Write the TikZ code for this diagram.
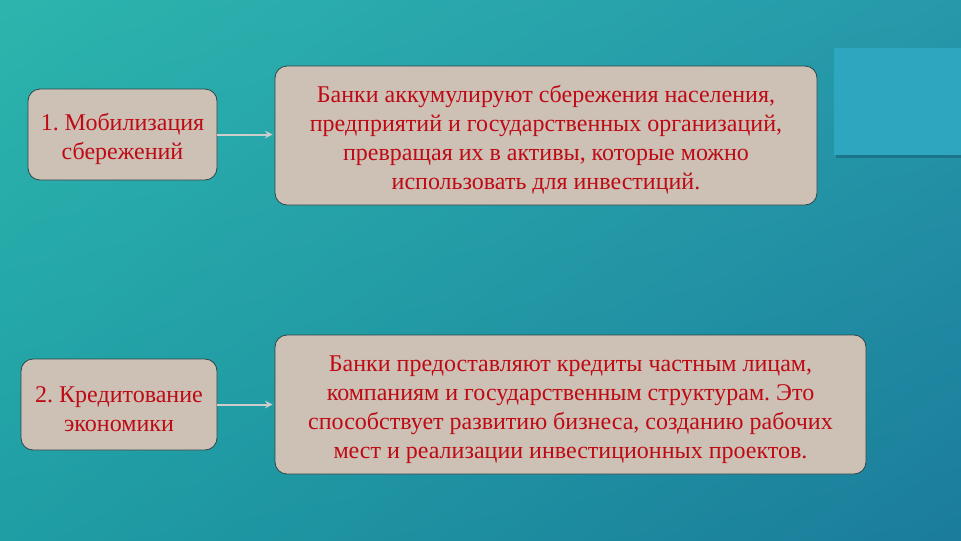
\documentclass[tikz,border=0pt]{standalone}
\usepackage{fontspec}
\setmainfont{Liberation Serif}
\usepackage{xcolor}
\usepackage{tikz}
\usetikzlibrary{arrows}
\usetikzlibrary{shapes}
\usetikzlibrary{shadings}

\definecolor{bgUL}{RGB}{44,181,173}
\definecolor{bgUR}{RGB}{38,152,170}
\definecolor{bgLL}{RGB}{31,158,164}
\definecolor{bgLR}{RGB}{27,124,155}
\definecolor{boxfill}{RGB}{205,192,181}
\definecolor{boxline}{RGB}{45,70,72}
\definecolor{boxtext}{RGB}{190,10,20}
\definecolor{arrowgray}{RGB}{205,205,205}
\definecolor{tabblue}{RGB}{46,166,192}
\definecolor{tabshadow}{RGB}{25,105,125}

\tikzset{
    stagebox/.style = {draw = boxline, line width = 0.6pt, fill = boxfill,
        rounded corners = 9pt, text = boxtext, align = flush center,
        font = \fontsize{18}{21.75}\selectfont\frenchspacing, inner sep = 0pt,
        execute at begin node = \rule{0pt}{19.5pt}},
    linkarrow/.style = {draw = arrowgray, line width = 1.5pt, -stealth,
        shorten > = 1.5pt}
}

\begin{document}
\begin{tikzpicture}[x = 0.75pt, y = -0.75pt]
            \useasboundingbox (0, 0) rectangle (961, 540);
            \shade[upper left = bgUL, upper right = bgUR, lower left = bgLL,
                lower right = bgLR] (0, 0) rectangle (961, 540);

            % tab in the upper right corner
            \fill[tabshadow, opacity = 0.7] (836, 151) rectangle (961, 158);
            \fill[tabblue] (834, 48) rectangle (961, 155);

            \node[stagebox, minimum width = 141.75pt, minimum height = 68.25pt,
                text width = 138pt] (mobil) at (122.5, 134.5)
                {1. Мобилизация\\сбережений};
            \node[stagebox, minimum width = 406.5pt, minimum height = 104.25pt,
                text width = 396pt] (savings) at (546, 135.5)
                {Банки аккумулируют сбережения населения,\\
                предприятий и государственных организаций,\\
                превращая их в активы, которые можно\\
                использовать для инвестиций.};

            \node[stagebox, minimum width = 147pt, minimum height = 68.25pt,
                text width = 143pt] (credit) at (119, 404.5)
                {2. Кредитование\\экономики};
            \node[stagebox, minimum width = 443.25pt, minimum height = 104.25pt,
                text width = 433pt] (loans) at (570.5, 404.5)
                {Банки предоставляют кредиты частным лицам,\\
                компаниям и государственным структурам. Это\\
                способствует развитию бизнеса, созданию рабочих\\
                мест и реализации инвестиционных проектов.};

            \draw[linkarrow] (mobil.east) -- (mobil.east -| savings.west);
            \draw[linkarrow] (credit.east) -- (credit.east -| loans.west);
        \end{tikzpicture}
\end{document}
